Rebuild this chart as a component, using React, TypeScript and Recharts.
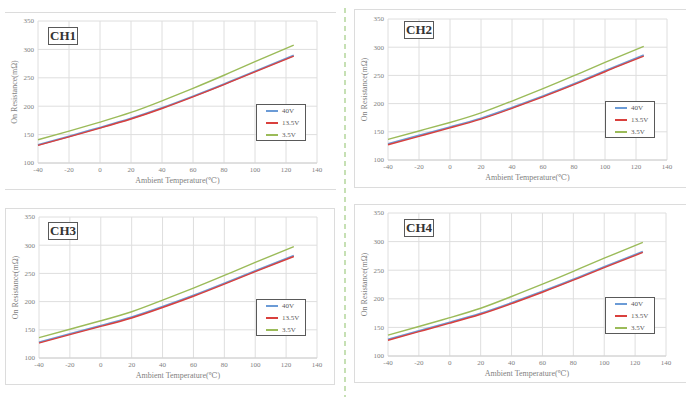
import { LineChart, Line, XAxis, YAxis, CartesianGrid, Legend } from "recharts"

// Ambient temperature points (°C)
const temps = [-40, -20, 0, 20, 40, 60, 80, 100, 125]

// On resistance (mΩ) per channel and supply voltage
const ch1V40 = [132, 147, 162.5, 178.5, 197, 217.5, 239, 261.5, 289.5]
const ch1V135 = [131, 146, 161.5, 177.5, 196, 216.5, 238, 260.5, 288]
const ch1V35 = [141, 156, 172, 189, 209.5, 231.5, 254.5, 278.5, 307.5]

const ch2V40 = [128.5, 143.5, 158.5, 174, 193, 213.5, 235, 258, 286]
const ch2V135 = [127, 142, 157, 172.5, 191.5, 212, 233.5, 256.5, 284]
const ch2V35 = [136.5, 151.5, 166.5, 183.5, 204.5, 226.5, 249.5, 273, 301.5]

const ch3V40 = [128, 143, 157.5, 172.5, 191, 211, 232.5, 254.5, 281.5]
const ch3V135 = [126.5, 141.5, 156, 171, 189.5, 209.5, 231, 253, 280]
const ch3V35 = [136, 151, 166, 182, 202.5, 224, 246.5, 269.5, 297.5]

const ch4V40 = [129, 144, 159, 174.5, 193, 213, 234, 256, 282.5]
const ch4V135 = [127.5, 142.5, 157.5, 173, 191.5, 211.5, 232.5, 254.5, 281]
const ch4V35 = [136.5, 151.5, 167, 183.5, 204, 225.5, 248, 271, 298.5]

const xTicks = [-40, -20, 0, 20, 40, 60, 80, 100, 120, 140]
const yTicks = [100, 150, 200, 250, 300, 350]

const seriesNames = ["40V", "13.5V", "3.5V"]
const colors = ["#6b9bd6", "#d9403d", "#9bbb59"]

const FONT = "'Liberation Serif', 'DejaVu Serif', serif"

function buildRows(a: number[], b: number[], c: number[]) {
  return temps.map((t, i) => ({ t, v40: a[i], v135: b[i], v35: c[i] }))
}

function LegendBox() {
  return (
    <div
      style={{
        width: 48,
        height: 35,
        border: "1px solid #595959",
        background: "#fff",
        fontFamily: FONT,
        fontSize: 7,
        color: "#595959",
        boxSizing: "content-box",
      }}
    >
      {seriesNames.map((n, i) => (
        <div key={n} style={{ display: "flex", alignItems: "center", height: 12 }}>
          <span style={{ display: "inline-block", width: 12, height: 1.5, background: colors[i], marginLeft: 9, marginRight: 4 }} />
          <span>{n}</span>
        </div>
      ))}
    </div>
  )
}

type PanelProps = {
  name: string
  a: number[]
  b: number[]
  c: number[]
  left: number
  top: number
  width: number
  height: number
  margin: { top: number; right: number; bottom: number; left: number }
  legendPos: { left: number; top: number }
  tagPos: { left: number; top: number }
  fullBorder: boolean
}

function Panel(p: PanelProps) {
  const rows = buildRows(p.a, p.b, p.c)
  const tick = { fontSize: 7, fill: "#808080", fontFamily: FONT }
  return (
    <div
      style={{
        position: "absolute",
        left: p.left,
        top: p.top,
        width: p.width,
        height: p.height,
        boxSizing: "border-box",
        borderTop: "1px solid #dcdcdc",
        borderBottom: "1px solid #dcdcdc",
        borderLeft: p.fullBorder ? "1px solid #dcdcdc" : "none",
        borderRight: p.fullBorder ? "1px solid #dcdcdc" : "none",
      }}
    >
      <div style={{ position: "absolute", left: -1, top: -1 }}>
        <LineChart width={p.width} height={p.height} data={rows} margin={p.margin}>
          <CartesianGrid stroke="#dedede" strokeWidth={1} />
          <XAxis
            dataKey="t"
            type="number"
            domain={[-40, 140]}
            ticks={xTicks}
            height={12}
            tick={tick}
            tickLine={false}
            tickSize={2}
            tickMargin={2}
            axisLine={{ stroke: "#d0d0d0" }}
            label={{
              value: "Ambient Temperature(℃)",
              position: "bottom",
              offset: 2,
              style: { fontSize: 8, fill: "#7f7f7f", fontFamily: FONT },
            }}
          />
          <YAxis
            type="number"
            domain={[100, 350]}
            ticks={yTicks}
            width={30}
            tick={tick}
            tickLine={false}
            tickSize={2}
            tickMargin={2}
            axisLine={false}
            label={{
              value: "On Resistance(mΩ)",
              angle: -90,
              position: "insideLeft",
              offset: 6,
              style: { fontSize: 8, fill: "#7f7f7f", fontFamily: FONT, textAnchor: "middle" },
            }}
          />
          <Legend
            layout="vertical"
            align="center"
            verticalAlign="middle"
            wrapperStyle={{ left: p.legendPos.left, top: p.legendPos.top, width: 50, height: 37 }}
            content={() => <LegendBox />}
          />
          <Line type="natural" dataKey="v40" name="40V" stroke={colors[0]} strokeWidth={1.8} dot={false} isAnimationActive={false} />
          <Line type="natural" dataKey="v135" name="13.5V" stroke={colors[1]} strokeWidth={1.4} dot={false} isAnimationActive={false} />
          <Line type="natural" dataKey="v35" name="3.5V" stroke={colors[2]} strokeWidth={1.4} dot={false} isAnimationActive={false} />
        </LineChart>
      </div>
      <div
        style={{
          position: "absolute",
          left: p.tagPos.left,
          top: p.tagPos.top,
          width: 28,
          height: 16,
          border: "1px solid #595959",
          background: "#fff",
          fontFamily: FONT,
          fontWeight: "bold",
          fontSize: 13,
          lineHeight: "16px",
          textAlign: "center",
          color: "#333",
        }}
      >
        {p.name}
      </div>
    </div>
  )
}

export default function App() {
  return (
    <div style={{ position: "absolute", left: 0, top: 0, width: 686, height: 397, background: "#fff", overflow: "hidden" }}>
      <Panel
        name="CH1" a={ch1V40} b={ch1V135} c={ch1V35}
        left={5} top={12} width={331} height={178}
        margin={{ top: 9, right: 18, bottom: 15, left: 4 }}
        legendPos={{ left: 252, top: 92 }}
        tagPos={{ left: 43, top: 14 }}
        fullBorder={false}
      />
      <Panel
        name="CH2" a={ch2V40} b={ch2V135} c={ch2V35}
        left={354} top={9} width={340} height={179}
        margin={{ top: 10, right: 27, bottom: 16, left: 4 }}
        legendPos={{ left: 251, top: 92 }}
        tagPos={{ left: 49, top: 11 }}
        fullBorder={true}
      />
      <Panel
        name="CH3" a={ch3V40} b={ch3V135} c={ch3V35}
        left={5} top={208} width={330} height={177}
        margin={{ top: 9, right: 18, bottom: 15, left: 4 }}
        legendPos={{ left: 251, top: 91 }}
        tagPos={{ left: 42, top: 13 }}
        fullBorder={true}
      />
      <Panel
        name="CH4" a={ch4V40} b={ch4V135} c={ch4V35}
        left={354} top={204} width={340} height={179}
        margin={{ top: 9, right: 28, bottom: 15, left: 4 }}
        legendPos={{ left: 251, top: 93 }}
        tagPos={{ left: 49, top: 14 }}
        fullBorder={true}
      />
      <div
        style={{
          position: "absolute",
          left: 344,
          top: 8,
          width: 2,
          height: 389,
          background: "repeating-linear-gradient(to bottom, #c6e0b4 0px, #c6e0b4 5px, transparent 5px, transparent 9px)",
        }}
      />
    </div>
  )
}
